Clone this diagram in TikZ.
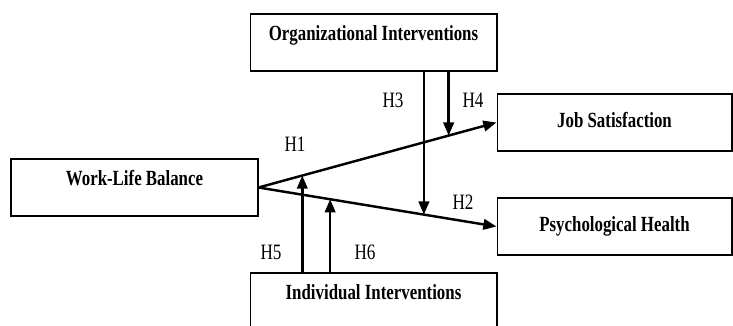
\documentclass[tikz,border=0pt]{standalone}
\usepackage{fontspec}
\setmainfont{Liberation Serif}[FakeStretch=0.78]
\usetikzlibrary{calc, arrows.meta, positioning}

\begin{document}
\begin{tikzpicture}[x=0.02cm, y=-0.02cm,
            box/.style={rectangle, draw, line width=0.6pt, minimum width=4.94cm, minimum height=1.14cm, inner sep=0pt, font=\fontsize{12.3}{14}\selectfont\bfseries, text height=8pt, text depth=2.5pt},
            outcome/.style={box, minimum width=4.7cm},
            raised/.style={text depth=10.5pt},
            link/.style={line width=1.4pt, -{Triangle[length=7.5pt, width=6pt]}},
            hyp/.style={font=\fontsize{12.5}{14}\selectfont}
        ]

        \useasboundingbox (0,0) rectangle (733,325);
        \clip (0,0) rectangle (733,325);

        % Nodes (manual layout to match figure)
        \node[box, raised] (org) at (373.5,42.5) {Organizational Interventions};
        \node[box, raised] (wlb) at (134.5,187.5) {Work-Life Balance};
        \node[outcome] (job) at (614.5,122.5) {Job Satisfaction};
        \node[outcome] (psy) at (614.5,226.5) {Psychological Health};
        \node[box, raised] (ind) at (373.5,301.5) {Individual Interventions};

        % Points where the moderators meet the paths
        \coordinate (m3) at ($(wlb.east)!0.695!(psy.west)$);
        \coordinate (m4) at ($(wlb.east)!0.799!(job.west)$);
        \coordinate (m5) at ($(wlb.east)!0.184!(job.west)$);
        \coordinate (m6) at ($(wlb.east)!0.301!(psy.west)$);

        % Edges
        \draw[link] (wlb.east) -- (job.west);
        \draw[link] (wlb.east) -- (psy.west);

        \draw[link] (org.south -| m3) -- (m3);
        \draw[link] (org.south -| m4) -- (m4);

        \draw[link] (ind.north -| m5) -- (m5);
        \draw[link] (ind.north -| m6) -- (m6);

        % Hypothesis labels
        \node[hyp] (lh1) at (295,144) {H1};
        \node[hyp] (lh2) at (463,202) {H2};
        \node[hyp] (lh3) at (393,100) {H3};
        \node[hyp] (lh4) at (473,100) {H4};
        \node[hyp] (lh5) at (271,252) {H5};
        \node[hyp] (lh6) at (365,252) {H6};

    \end{tikzpicture}
\end{document}
